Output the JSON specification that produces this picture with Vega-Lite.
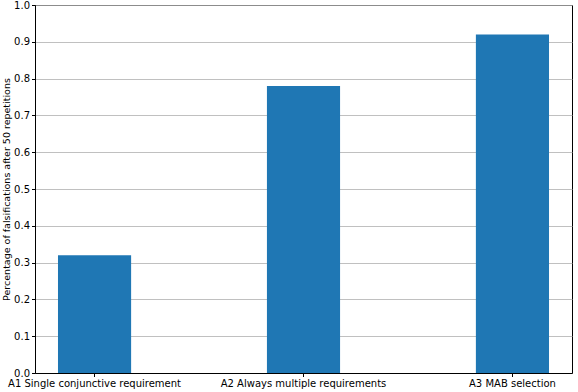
{
  "$schema": "https://vega.github.io/schema/vega-lite/v6.json",
  "width": 537,
  "height": 368,
  "autosize": {"type": "none"},
  "padding": {"left": 35, "top": 5, "right": 6, "bottom": 19},
  "background": "white",
  "data": {
    "values": [
      {"approach": "A1 Single conjunctive requirement", "value": 0.32},
      {"approach": "A2 Always multiple requirements", "value": 0.78},
      {"approach": "A3 MAB selection", "value": 0.92}
    ]
  },
  "mark": {"type": "bar", "color": "#1f77b4"},
  "encoding": {
    "x": {
      "field": "approach",
      "type": "nominal",
      "sort": null,
      "scale": {"paddingInner": 0.65, "paddingOuter": 0.11},
      "axis": {
        "title": null,
        "labelAngle": 0,
        "labelFont": "DejaVu Sans",
        "labelFontSize": 10,
        "labelColor": "black",
        "labelPadding": 2,
        "tickColor": "black",
        "tickSize": 3.5,
        "domainColor": "black",
        "grid": false
      }
    },
    "y": {
      "field": "value",
      "type": "quantitative",
      "scale": {"domain": [0, 1], "nice": false},
      "axis": {
        "title": "Percentage of falsifications after 50 repetitions",
        "titleFont": "DejaVu Sans",
        "titleFontSize": 9.5,
        "titleFontWeight": "normal",
        "titleColor": "black",
        "titlePadding": 2,
        "values": [0, 0.1, 0.2, 0.3, 0.4, 0.5, 0.6, 0.7, 0.8, 0.9, 1.0],
        "format": ".1f",
        "labelFont": "DejaVu Sans",
        "labelFontSize": 10,
        "labelColor": "black",
        "labelPadding": 2,
        "tickColor": "black",
        "tickSize": 3.5,
        "domainColor": "black",
        "grid": true,
        "gridColor": "#b0b0b0",
        "gridWidth": 0.8
      }
    }
  },
  "config": {
    "view": {"stroke": "black", "strokeWidth": 1},
    "axis": {"zindex": 0}
  }
}
